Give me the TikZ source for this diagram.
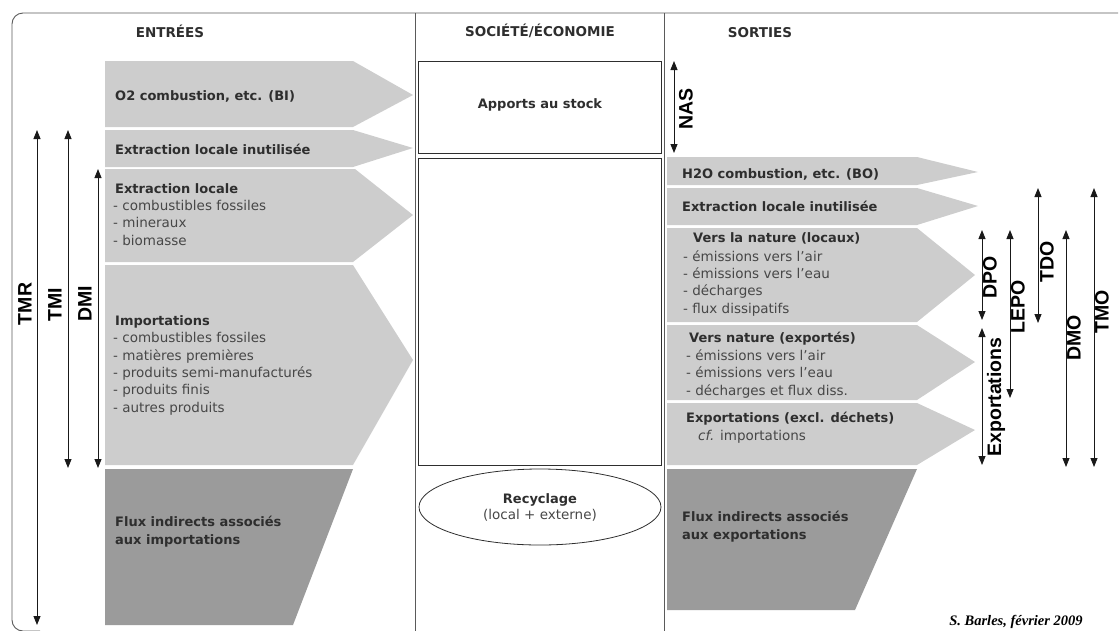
\documentclass[tikz,border=0pt]{standalone}
\usepackage{fontspec}
\setmainfont{DejaVu Sans}
\newfontfamily\tagfont{Liberation Sans}
\newfontfamily\signfont{Liberation Serif}
\usepackage{xcolor}
\usetikzlibrary{arrows.meta,positioning,shapes,calc}

\definecolor{flowlight}{HTML}{CDCDCD}
\definecolor{flowdark}{HTML}{9B9B9B}
\definecolor{inkgray}{HTML}{2E2E2E}
\definecolor{itemgray}{HTML}{474747}
\definecolor{rulegray}{HTML}{5A5A5A}

\begin{document}
\begin{tikzpicture}[x=1pt, y=-1pt,
  title/.style={anchor=base west, inner sep=0pt, text=inkgray, font=\fontsize{13}{17.3}\selectfont\bfseries},
  items/.style={anchor=base west, inner sep=0pt, align=left, text=itemgray, font=\fontsize{13.5}{17.3}\selectfont},
  head/.style={anchor=base, inner sep=0pt, text=inkgray, font=\fontsize{13.5}{16}\selectfont\bfseries},
  tag/.style={rotate=90, inner sep=0pt, font=\tagfont\fontsize{19.5}{20}\selectfont\bfseries},
  dimline/.style={{Triangle[length=9pt,width=7pt]}-{Triangle[length=9pt,width=7pt]}, line width=0.9pt, draw=black!90},
  boxline/.style={draw=inkgray, line width=0.8pt}]

\useasboundingbox (0,0) rectangle (1120,630);

% Frame and columns
\draw[rulegray, line width=0.9pt, rounded corners=11pt] (1118,13) -- (12,13) -- (12,631) -- (40,631);
\draw[rulegray, line width=0.8pt] (415.5,13) -- (415.5,632);
\draw[rulegray, line width=0.8pt] (664,13) -- (664,632);

\node[head] (hin) at (170,37) {ENTRÉES};
\node[head] (hsoc) at (540,36) {SOCIÉTÉ/ÉCONOMIE};
\node[head] (hout) at (760,37) {SORTIES};

% Inputs (left) -- multi-line nodes sit on their last baseline
\fill[flowlight] (105,61) -- (353,61) -- (413,95) -- (353,127) -- (105,127) -- cycle;
\fill[flowlight] (105,130) -- (353,130) -- (413,148) -- (353,167) -- (105,167) -- cycle;
\fill[flowlight] (105,169) -- (355,169) -- (413,215) -- (353,262) -- (105,262) -- cycle;
\fill[flowlight] (105,265) -- (353,265) -- (413,360) -- (353,465) -- (105,465) -- cycle;
\fill[flowdark] (105,469) -- (353,469) -- (293,625) -- (105,625) -- cycle;

\node[title] (bi) at (115,100) {O2 combustion, etc. (BI)};
\node[title] (eli) at (115,154) {Extraction locale inutilisée};
\node[title] (el) at (115,193) {Extraction locale};
\node[items] (el-list) at (113,245) {- combustibles fossiles\\- mineraux\\- biomasse};
\node[title] (imp) at (115,325) {Importations};
\node[items] (imp-list) at (113,412) {- combustibles fossiles\\- matières premières\\- produits semi-manufacturés\\- produits finis\\- autres produits};
\node[title, align=left] (fii) at (115,544) {Flux indirects associés\\aux importations};

% Input indicators
\coordinate (tmr-top) at (37,130);  \coordinate (tmr-bot) at (37,625);
\coordinate (tmi-top) at (68,130);  \coordinate (tmi-bot) at (68,468);
\coordinate (dmi-top) at (98,169);  \coordinate (dmi-bot) at (98,468);
\draw[dimline] (tmr-top) -- (tmr-bot);
\draw[dimline] (tmi-top) -- (tmi-bot);
\draw[dimline] (dmi-top) -- (dmi-bot);
\node[tag] (tmr) at (25,304) {TMR};
\node[tag] (tmi) at (55,305) {TMI};
\node[tag] (dmi) at (85,304) {DMI};

% Society / economy (middle)
\draw[boxline] (418,61) rectangle (661,153);
\node[title, anchor=base] (stock) at (540,108) {Apports au stock};
\draw[boxline] (418,158) rectangle (661,465);
\node[boxline, ellipse, minimum width=242pt, minimum height=76pt, inner sep=0pt] (recyc) at (540,507) {};
\node[title, anchor=base] (recyc-t) at (540,503) {Recyclage};
\node[items, anchor=base] (recyc-s) at (540,519) {(local + externe)};

% Outputs (right)
\fill[flowlight] (667,157) -- (917,157) -- (978,172) -- (917,185) -- (667,185) -- cycle;
\fill[flowlight] (667,188) -- (917,188) -- (978,206) -- (917,225) -- (667,225) -- cycle;
\fill[flowlight] (667,228) -- (917,228) -- (975,275) -- (917,322) -- (667,322) -- cycle;
\fill[flowlight] (667,325) -- (917,325) -- (975,362) -- (917,400) -- (667,400) -- cycle;
\fill[flowlight] (667,403) -- (917,403) -- (975,430) -- (917,465) -- (667,465) -- cycle;
\fill[flowdark] (667,469) -- (917,469) -- (855,610) -- (667,610) -- cycle;

\node[title] (bo) at (682,178) {H2O combustion, etc. (BO)};
\node[title] (elo) at (682,211) {Extraction locale inutilisée};
\node[title] (loc) at (693,242) {Vers la nature (locaux)};
\node[items] (loc-list) at (683,313) {- émissions vers l'air\\- émissions vers l'eau\\- décharges\\- flux dissipatifs};
\node[title] (exn) at (689,342) {Vers nature (exportés)};
\node[items] (exn-list) at (686,395) {- émissions vers l'air\\- émissions vers l'eau\\- décharges et flux diss.};
\node[title] (exp) at (686,422) {Exportations (excl. déchets)};
\node[items] (exp-cf) at (698,440) {\textit{cf.} importations};
\node[title, align=left] (fie) at (682,539) {Flux indirects associés\\aux exportations};

% Output indicators
\coordinate (nas-top) at (674,61);   \coordinate (nas-bot) at (674,153);
\coordinate (dpo-top) at (982,230);  \coordinate (dpo-bot) at (982,320);
\coordinate (ex-top) at (982,328);   \coordinate (ex-bot) at (982,465);
\coordinate (lepo-top) at (1010,230); \coordinate (lepo-bot) at (1010,398);
\coordinate (tdo-top) at (1038,188); \coordinate (tdo-bot) at (1038,323);
\coordinate (dmo-top) at (1066,230); \coordinate (dmo-bot) at (1066,467);
\coordinate (tmo-top) at (1094,188); \coordinate (tmo-bot) at (1094,467);
\draw[dimline] (nas-top) -- (nas-bot);
\draw[dimline] (dpo-top) -- (dpo-bot);
\draw[dimline] (ex-top) -- (ex-bot);
\draw[dimline] (lepo-top) -- (lepo-bot);
\draw[dimline] (tdo-top) -- (tdo-bot);
\draw[dimline] (dmo-top) -- (dmo-bot);
\draw[dimline] (tmo-top) -- (tmo-bot);
\node[tag] (nas) at (686,109) {NAS};
\node[tag] (dpo) at (990,277) {DPO};
\node[tag] (expo) at (996,397) {Exportations};
\node[tag] (lepo) at (1018,307) {LEPO};
\node[tag] (tdo) at (1047,262) {TDO};
\node[tag] (dmo) at (1074,338) {DMO};
\node[tag] (tmo) at (1102,312) {TMO};

\node[anchor=base, inner sep=0pt, font=\signfont\fontsize{14.5}{16}\selectfont\bfseries\itshape] (sign) at (1016,625) {S. Barles, février 2009};

\end{tikzpicture}
\end{document}
